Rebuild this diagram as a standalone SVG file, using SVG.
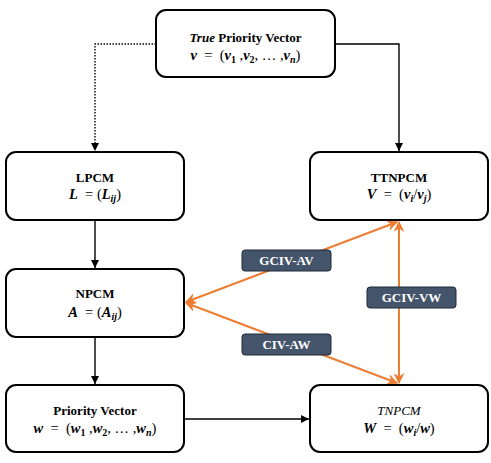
<svg xmlns="http://www.w3.org/2000/svg" width="491" height="463" viewBox="0 0 491 463">
<style>
.box{fill:#fff;stroke:#000;stroke-width:2}
.t{font-family:"Liberation Serif",serif;font-size:13px;font-weight:bold;fill:#000;text-anchor:middle}
.m{font-family:"Liberation Serif",serif;font-size:14.5px;fill:#000;text-anchor:middle}
.bi{font-weight:bold;font-style:italic}
.sb{font-weight:bold;font-size:10px}
.sbi{font-weight:bold;font-style:italic;font-size:10px}
.con{fill:none;stroke:#000;stroke-width:1.4}
.or{fill:none;stroke:#ED7D31;stroke-width:2}
.lab{fill:#44546A;stroke:#1f2a38;stroke-width:1}
.lt{font-family:"Liberation Serif",serif;font-size:13px;font-weight:bold;fill:#fff;text-anchor:middle}
</style>
<defs>
<marker id="ab" viewBox="0 0 10 10" refX="10" refY="5" markerWidth="8" markerHeight="8" markerUnits="userSpaceOnUse" orient="auto"><path d="M0,0 L10,5 L0,10 z" fill="#000"/></marker>
<marker id="ao" viewBox="0 0 10 10" refX="9" refY="5" markerWidth="11" markerHeight="11" markerUnits="userSpaceOnUse" orient="auto-start-reverse"><path d="M0,0 L10,5 L0,10 L3,5 z" fill="#ED7D31"/></marker>
</defs>
<g id="connectors">
<path class="con" d="M156,44 H95 V151" stroke-dasharray="1.5 1.5" marker-end="url(#ab)"/>
<path class="con" d="M335,44 H399 V151" marker-end="url(#ab)"/>
<path class="con" d="M95,221 V268" marker-end="url(#ab)"/>
<path class="con" d="M95,338 V384" marker-end="url(#ab)"/>
<path class="con" d="M185,419 H309" marker-end="url(#ab)"/>
<path class="or" d="M399,222 V383" marker-start="url(#ao)" marker-end="url(#ao)"/>
<path class="or" d="M186,302 L397,222" marker-start="url(#ao)" marker-end="url(#ao)"/>
<path class="or" d="M186,303 L397,383" marker-start="url(#ao)" marker-end="url(#ao)"/>
</g>
<g id="label-gciv-av"><rect class="lab" x="242" y="250" width="89" height="21" rx="3"/><text class="lt" x="286.5" y="265">GCIV-AV</text></g>
<g id="label-civ-aw"><rect class="lab" x="242" y="334" width="89" height="21" rx="3"/><text class="lt" x="286.5" y="349">CIV-AW</text></g>
<g id="label-gciv-vw"><rect class="lab" x="367" y="287" width="89" height="21" rx="3"/><text class="lt" x="411.5" y="302">GCIV-VW</text></g>
<g id="node-true">
<rect class="box" x="156" y="10" width="179" height="67" rx="10"/>
<text class="t" x="245.5" y="42"><tspan class="bi">True</tspan> Priority Vector</text>
<text class="m" x="245.5" y="60" xml:space="preserve"><tspan class="bi">v</tspan>  =  (<tspan class="bi">v</tspan><tspan class="sb" dy="3">1</tspan><tspan dy="-3"> ,</tspan><tspan class="bi">v</tspan><tspan class="sb" dy="3">2</tspan><tspan dy="-3">, … ,</tspan><tspan class="bi">v</tspan><tspan class="sbi" dy="3">n</tspan><tspan dy="-3">)</tspan></text>
</g>
<g id="node-lpcm">
<rect class="box" x="6" y="152" width="178" height="68" rx="10"/>
<text class="t" x="95" y="182">LPCM</text>
<text class="m" x="95" y="199" xml:space="preserve"><tspan class="bi">L</tspan>  = (<tspan class="bi">L</tspan><tspan class="sbi" dy="3">ij</tspan><tspan dy="-3">)</tspan></text>
</g>
<g id="node-ttnpcm">
<rect class="box" x="310" y="152" width="178" height="68" rx="10"/>
<text class="t" x="399" y="182">TTNPCM</text>
<text class="m" x="399" y="199" xml:space="preserve"><tspan class="bi">V</tspan>  =  (<tspan class="bi">v</tspan><tspan class="sbi" dy="3">i</tspan><tspan dy="-3">/</tspan><tspan class="bi">v</tspan><tspan class="sbi" dy="3">j</tspan><tspan dy="-3">)</tspan></text>
</g>
<g id="node-npcm">
<rect class="box" x="6" y="269" width="178" height="68" rx="10"/>
<text class="t" x="95" y="298">NPCM</text>
<text class="m" x="95" y="317" xml:space="preserve"><tspan class="bi">A</tspan>  = (<tspan class="bi">A</tspan><tspan class="sbi" dy="3">ij</tspan><tspan dy="-3">)</tspan></text>
</g>
<g id="node-pv">
<rect class="box" x="6" y="385" width="178" height="67" rx="10"/>
<text class="t" x="95" y="415">Priority Vector</text>
<text class="m" x="95" y="433" xml:space="preserve"><tspan class="bi">w</tspan>  =  (<tspan class="bi">w</tspan><tspan class="sb" dy="3">1</tspan><tspan dy="-3"> ,</tspan><tspan class="bi">w</tspan><tspan class="sb" dy="3">2</tspan><tspan dy="-3">, … ,</tspan><tspan class="bi">w</tspan><tspan class="sbi" dy="3">n</tspan><tspan dy="-3">)</tspan></text>
</g>
<g id="node-tnpcm">
<rect class="box" x="310" y="385" width="178" height="67" rx="10"/>
<text class="t" x="399" y="415"><tspan style="font-weight:normal;font-style:italic">TNPCM</tspan></text>
<text class="m" x="399" y="433" xml:space="preserve"><tspan class="bi">W</tspan>  =  (<tspan class="bi">w</tspan><tspan class="sbi" dy="3">i</tspan><tspan dy="-3">/</tspan><tspan class="bi">w</tspan><tspan dy="0">)</tspan></text>
</g>
</svg>
